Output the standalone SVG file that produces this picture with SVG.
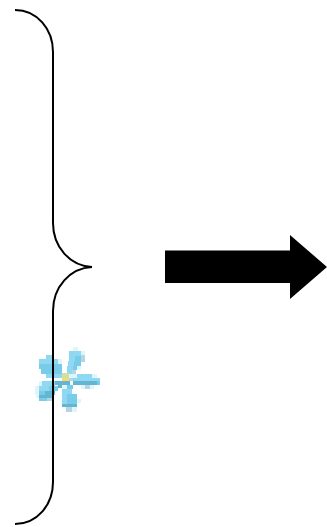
<svg xmlns="http://www.w3.org/2000/svg" width="327" height="527" viewBox="0 0 327 527">
<style>.b{fill:none;stroke:#000;stroke-width:2}.p{fill:#dff4fb}.l{fill:#8ed8f2}.m{fill:#79cbea}.d{fill:#64b5d2}.g{fill:#b4d6e2}</style>
<rect width="327" height="527" fill="#fff"/>
<g id="flower" shape-rendering="crispEdges">
<!-- upper-left petal -->
<rect class="l" x="46" y="355" width="7" height="4"/>
<rect class="l" x="39" y="359" width="19" height="5"/>
<rect class="p" x="58" y="359" width="4" height="5"/>
<rect class="m" x="39" y="364" width="23" height="5"/>
<rect class="m" x="41" y="369" width="21" height="5"/>
<rect class="l" x="46" y="374" width="16" height="4"/>
<!-- upper-right petal -->
<rect class="p" x="73" y="347" width="5" height="4"/>
<rect class="l" x="69" y="351" width="12" height="5"/>
<rect class="p" x="81" y="351" width="4" height="4"/>
<rect class="l" x="69" y="356" width="6" height="5"/>
<rect class="m" x="75" y="356" width="6" height="5"/>
<rect class="g" x="81" y="355" width="4" height="7"/>
<rect class="l" x="68" y="361" width="6" height="5"/>
<rect class="m" x="74" y="361" width="7" height="5"/>
<rect class="l" x="67" y="366" width="6" height="4"/>
<rect class="m" x="73" y="366" width="4" height="4"/>
<rect class="p" x="77" y="366" width="4" height="4"/>
<rect class="l" x="67" y="370" width="5" height="4"/>
<rect class="g" x="72" y="370" width="4" height="4"/>
<!-- right petal -->
<rect class="p" x="69" y="374" width="8" height="4"/>
<rect class="l" x="77" y="374" width="15" height="4"/>
<rect class="p" x="92" y="374" width="5" height="4"/>
<rect class="g" x="69" y="378" width="4" height="3"/>
<rect class="l" x="73" y="378" width="27" height="3"/>
<rect class="d" x="73" y="381" width="24" height="4"/>
<rect class="m" x="97" y="381" width="3" height="4"/>
<rect class="p" x="81" y="385" width="4" height="4"/>
<rect class="g" x="85" y="385" width="5" height="4"/>
<rect class="p" x="90" y="385" width="4" height="4"/>
<!-- centre -->
<rect fill="#cfe0a0" x="62" y="373" width="7" height="5"/>
<rect fill="#f7da6b" x="62" y="378" width="7" height="3"/>
<!-- lower petal -->
<rect class="d" x="62" y="381" width="8" height="4"/>
<rect class="p" x="62" y="385" width="5" height="4"/>
<rect class="m" x="67" y="385" width="6" height="4"/>
<rect class="l" x="62" y="389" width="5" height="15"/>
<rect class="l" x="67" y="389" width="5" height="5"/>
<rect class="m" x="67" y="394" width="10" height="10"/>
<rect class="p" x="77" y="399" width="4" height="4"/>
<rect class="d" x="62" y="404" width="15" height="3"/>
<rect class="g" x="66" y="407" width="6" height="5"/>
<rect class="p" x="72" y="407" width="5" height="5"/>
<!-- lower-left petal -->
<rect class="p" x="39" y="381" width="3" height="5"/>
<rect class="l" x="42" y="381" width="13" height="5"/>
<rect class="d" x="55" y="381" width="7" height="4"/>
<rect class="p" x="35" y="386" width="4" height="5"/>
<rect class="l" x="39" y="386" width="10" height="5"/>
<rect class="m" x="49" y="386" width="9" height="5"/>
<rect class="d" x="58" y="385" width="4" height="3"/>
<rect class="p" x="35" y="391" width="4" height="4"/>
<rect class="m" x="39" y="391" width="6" height="4"/>
<rect class="d" x="45" y="391" width="10" height="4"/>
<rect class="p" x="36" y="395" width="3" height="3"/>
<rect class="d" x="39" y="395" width="13" height="3"/>
<rect class="m" x="39" y="398" width="8" height="3"/>
<rect class="g" x="47" y="398" width="5" height="3"/>
</g>
<g id="connectors">
<path class="b" d="M15 10C37 10 53 29 53 52V223C53 247 70 266 92 267C70 268 53 287 53 311V482C53 505 37 524 15 524"/>
<path d="M165 250.5H290V235L327 267L290 299V283H165Z" fill="#000"/>
</g>
</svg>
